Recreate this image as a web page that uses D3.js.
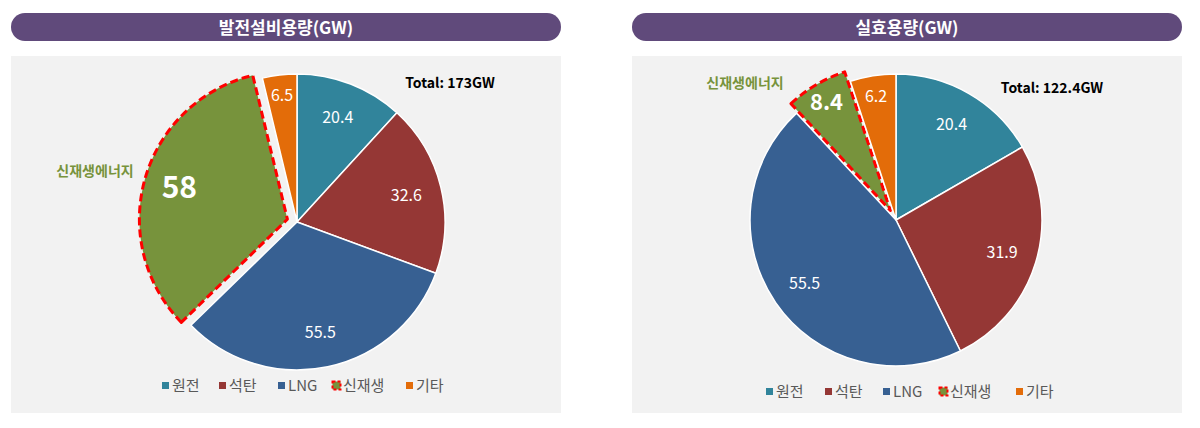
<!DOCTYPE html>
<html>
<head>
<meta charset="utf-8">
<script src="https://cdn.jsdelivr.net/npm/d3@7"></script>
<style>
	body { margin: 0; background: #fff; }
	text { font-family: "Noto Sans CJK KR", "Noto Sans", sans-serif; }
</style>
</head>
<body>
<div id="chart"></div>
<script>
const categories = ["원전", "석탄", "LNG", "신재생", "기타"];
const colors = ["#31849B", "#953735", "#376092", "#77933C", "#E36C09"];
const capacityValues = [20.4, 32.6, 55.5, 58, 6.5];
const effectiveValues = [20.4, 31.9, 55.5, 8.4, 6.2];
const titles = ["발전설비용량(GW)", "실효용량(GW)"];
const totals = ["Total: 173GW", "Total: 122.4GW"];
const highlightLabel = "신재생에너지";

const svg = d3.select("#chart").append("svg")
	.attr("width", 1200)
	.attr("height", 428);

function drawPanel({x0, values, title, total, cx, cy, r, explode, bigFont, calloutPos, totalPos, legendX, legendY, legendSteps}) {
	const g = svg.append("g");

	// title bar
	g.append("rect")
		.attr("x", x0).attr("y", 13)
		.attr("width", 550).attr("height", 28)
		.attr("rx", 14)
		.attr("fill", "#604A7B");
	g.append("text")
		.attr("x", x0 + 275).attr("y", 33.5)
		.attr("text-anchor", "middle")
		.attr("fill", "#fff")
		.attr("font-size", 17)
		.attr("font-weight", "bold")
		.text(title);

	// chart area
	g.append("rect")
		.attr("x", x0).attr("y", 56)
		.attr("width", 550).attr("height", 357)
		.attr("fill", "#F2F2F2");

	const pie = d3.pie().sort(null).value(d => d.value);
	const arcs = pie(values.map((v, i) => ({name: categories[i], value: v, i})));
	const arc = d3.arc().innerRadius(0).outerRadius(r);

	const offset = d => {
		if (d.data.i !== 3) return [0, 0];
		const a = (d.startAngle + d.endAngle) / 2;
		return [Math.sin(a) * explode, -Math.cos(a) * explode];
	};

	const pieG = g.append("g").attr("transform", `translate(${cx},${cy})`);

	pieG.selectAll("path")
		.data(arcs).enter()
		.append("path")
		.attr("transform", d => `translate(${offset(d)})`)
		.attr("d", arc)
		.attr("fill", d => colors[d.data.i])
		.attr("stroke", d => d.data.i === 3 ? "#FF0000" : "#fff")
		.attr("stroke-width", d => d.data.i === 3 ? 3 : 1.5)
		.attr("stroke-dasharray", d => d.data.i === 3 ? "8,4" : null)
		.attr("stroke-linejoin", "round");

	pieG.selectAll("text.val")
		.data(arcs).enter()
		.append("text")
		.attr("class", "val")
		.attr("transform", d => {
			const span = d.endAngle - d.startAngle;
			const k = span < 0.5 ? 0.86 : 0.76;
			const a = (d.startAngle + d.endAngle) / 2;
			const o = offset(d);
			return `translate(${Math.sin(a) * r * k + o[0]},${-Math.cos(a) * r * k + o[1]})`;
		})
		.attr("text-anchor", "middle")
		.attr("dy", "0.35em")
		.attr("fill", "#fff")
		.attr("font-family", "'Open Sans', 'Noto Sans', sans-serif")
		.attr("font-size", d => d.data.i === 3 ? bigFont : 16)
		.attr("font-weight", d => d.data.i === 3 ? "bold" : "normal")
		.text(d => d.data.value);

	g.append("text")
		.attr("x", calloutPos[0]).attr("y", calloutPos[1])
		.attr("text-anchor", "middle")
		.attr("fill", "#77933C")
		.attr("font-size", 14)
		.attr("font-weight", "bold")
		.text(highlightLabel);

	g.append("text")
		.attr("x", totalPos[0]).attr("y", totalPos[1])
		.attr("text-anchor", "middle")
		.attr("fill", "#000")
		.attr("font-family", "'Open Sans', 'Noto Sans', sans-serif")
		.attr("font-size", 14)
		.attr("font-weight", "bold")
		.text(total);

	// legend
	let lx = legendX;
	categories.forEach((c, i) => {
		if (i === 3) {
			g.append("rect")
				.attr("x", lx - 0.5).attr("y", legendY - 4.5)
				.attr("width", 8).attr("height", 8)
				.attr("fill", colors[i])
				.attr("stroke", "#FF0000").attr("stroke-width", 2)
				.attr("stroke-dasharray", "3,2");
		} else {
			g.append("rect")
				.attr("x", lx).attr("y", legendY - 4)
				.attr("width", 7).attr("height", 7)
				.attr("fill", colors[i]);
		}
		g.append("text")
			.attr("x", lx + 10).attr("y", legendY)
			.attr("dy", "0.35em")
			.attr("fill", "#595959")
			.attr("font-size", 15)
			.text(c);
		lx += legendSteps[i] || 0;
	});
}

drawPanel({
	x0: 11, values: capacityValues, title: titles[0], total: totals[0],
	cx: 297, cy: 222, r: 148, explode: 10, bigFont: 30,
	calloutPos: [95, 176], totalPos: [450, 88], legendX: 162, legendY: 386,
	legendSteps: [57, 59, 55, 73]
});

drawPanel({
	x0: 632, values: effectiveValues, title: titles[1], total: totals[1],
	cx: 896, cy: 220, r: 146, explode: 11, bigFont: 22,
	calloutPos: [745, 88], totalPos: [1052, 93], legendX: 766, legendY: 392,
	legendSteps: [59, 58, 57, 76]
});
</script>
</body>
</html>
